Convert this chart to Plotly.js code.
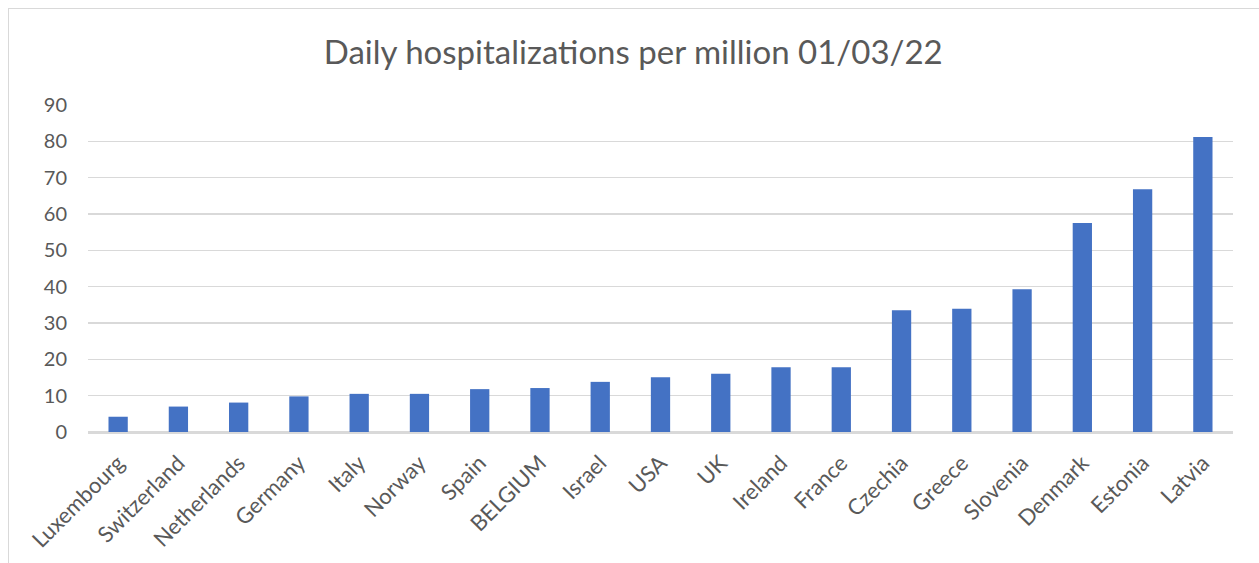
<!DOCTYPE html>
<html>
<head>
<meta charset="utf-8">
<script src="https://cdn.plot.ly/plotly-3.0.1.min.js"></script>
<style>
  html, body { margin: 0; padding: 0; background: #fff; }
  #wrap { position: relative; width: 1259px; height: 563px; overflow: hidden; }
  #chart { width: 1259px; height: 563px; }
  #frame { position: absolute; left: 8px; top: 8px; width: 1300px; height: 600px;
           border-left: 1px solid #d9d9d9; border-top: 1px solid #d9d9d9; pointer-events: none; }
</style>
</head>
<body>
<div id="wrap">
  <div id="chart"></div>
  <div id="frame"></div>
</div>
<script>
// Countries, sorted by daily hospitalizations per million
const countries = ["Luxembourg", "Switzerland", "Netherlands", "Germany", "Italy", "Norway",
  "Spain", "BELGIUM", "Israel", "USA", "UK", "Ireland", "France", "Czechia", "Greece",
  "Slovenia", "Denmark", "Estonia", "Latvia"];
const hospitalizations = [4.2, 7.0, 8.1, 9.8, 10.5, 10.5, 11.8, 12.1, 13.8, 15.1, 16.0,
  17.8, 17.8, 33.5, 33.9, 39.3, 57.5, 66.8, 81.2];
const yTicks = [0, 10, 20, 30, 40, 50, 60, 70, 80, 90];

const font = 'Lato, "Open Sans", sans-serif';
const grey = '#595959';

Plotly.newPlot('chart', [{
  type: 'bar',
  x: countries,
  y: hospitalizations,
  marker: { color: '#4472c4', line: { width: 0 } },
  hoverinfo: 'x+y'
}], {
  width: 1259,
  height: 563,
  margin: { l: 88, r: 26, t: 105, b: 131 },
  paper_bgcolor: '#ffffff',
  plot_bgcolor: '#ffffff',
  bargap: 0.68,
  showlegend: false,
  title: {
    text: 'Daily hospitalizations per million 01/03/22',
    font: { family: font, size: 33, color: grey },
    x: 0.503, xanchor: 'center',
    y: 0.907, yanchor: 'middle'
  },
  xaxis: {
    type: 'category',
    tickangle: -45,
    tickfont: { family: font, size: 22, color: grey },
    showgrid: false,
    showline: true,
    linecolor: '#d9d9d9',
    linewidth: 1.5,
    ticks: '',
    ticklabelstandoff: 8
  },
  yaxis: {
    range: [0, 90],
    tickvals: yTicks,
    ticktext: yTicks.map(String),
    tickfont: { family: font, size: 20, color: grey },
    showgrid: true,
    gridcolor: '#d9d9d9',
    gridwidth: 1.5,
    zeroline: true,
    zerolinecolor: '#d9d9d9',
    zerolinewidth: 1.5,
    showline: false,
    ticks: '',
    ticklabelstandoff: 20
  }
}, { displayModeBar: false, staticPlot: true });
</script>
</body>
</html>
